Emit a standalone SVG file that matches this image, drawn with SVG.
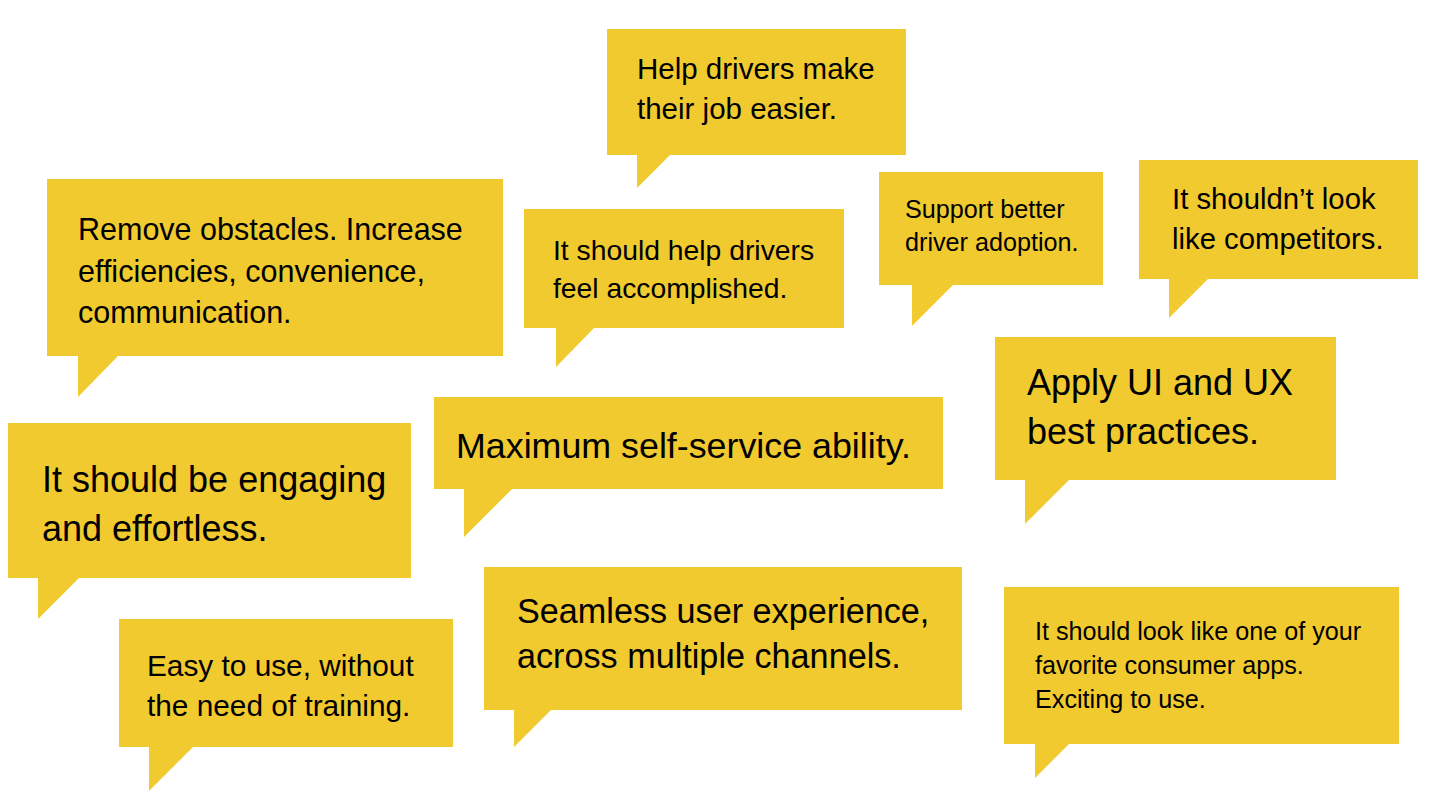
<svg xmlns="http://www.w3.org/2000/svg" width="1437" height="809" viewBox="0 0 1437 809">
<style>
.b{fill:#F1CA2F}
text{font-family:"Liberation Sans",Arial,sans-serif;fill:#000}
</style>
<rect width="1437" height="809" fill="#fff"/>
<g id="n1"><path class="b" d="M607 29H906V155H670L637 188V155H607Z"/>
<text x="637" font-size="29.5"><tspan x="637" y="79">Help drivers make</tspan><tspan x="637" y="119">their job easier.</tspan></text></g>
<g id="n2"><path class="b" d="M47 179H503V356H118L78 397V356H47Z"/>
<text font-size="30.5"><tspan x="78" y="240">Remove obstacles. Increase</tspan><tspan x="78" y="281.5">efficiencies, convenience,</tspan><tspan x="78" y="323">communication.</tspan></text></g>
<g id="n3"><path class="b" d="M524 209H844V328H594L556 367V328H524Z"/>
<text font-size="28.3"><tspan x="553" y="260">It should help drivers</tspan><tspan x="553" y="298">feel accomplished.</tspan></text></g>
<g id="n4"><path class="b" d="M879 172H1103V285H953L912 326V285H879Z"/>
<text font-size="25.2"><tspan x="905" y="218">Support better</tspan><tspan x="905" y="251">driver adoption.</tspan></text></g>
<g id="n5"><path class="b" d="M1139 160H1418V279H1208L1169 318V279H1139Z"/>
<text font-size="29.3"><tspan x="1172" y="209">It shouldn’t look</tspan><tspan x="1172" y="249">like competitors.</tspan></text></g>
<g id="n6"><path class="b" d="M995 337H1336V480H1069L1025 524V480H995Z"/>
<text font-size="36"><tspan x="1027" y="395">Apply UI and UX</tspan><tspan x="1027" y="444">best practices.</tspan></text></g>
<g id="n7"><path class="b" d="M434 397H943V489H512L464 537V489H434Z"/>
<text x="456" y="458" font-size="35.8">Maximum self-service ability.</text></g>
<g id="n8"><path class="b" d="M8 423H411V578H79L38 619V578H8Z"/>
<text font-size="36"><tspan x="42" y="492">It should be engaging</tspan><tspan x="42" y="541">and effortless.</tspan></text></g>
<g id="n9"><path class="b" d="M119 619H453V747H193L149 791V747H119Z"/>
<text font-size="29.8"><tspan x="147" y="676">Easy to use, without</tspan><tspan x="147" y="716">the need of training.</tspan></text></g>
<g id="n10"><path class="b" d="M484 567H962V710H551L514 747V710H484Z"/>
<text font-size="34.2"><tspan x="517" y="623">Seamless user experience,</tspan><tspan x="517" y="668">across multiple channels.</tspan></text></g>
<g id="n11"><path class="b" d="M1004 587H1399V744H1069L1035 778V744H1004Z"/>
<text font-size="25.2"><tspan x="1035" y="640">It should look like one of your</tspan><tspan x="1035" y="673.5">favorite consumer apps.</tspan><tspan x="1035" y="707.5">Exciting to use.</tspan></text></g>
<g id="connectors"/>
</svg>
